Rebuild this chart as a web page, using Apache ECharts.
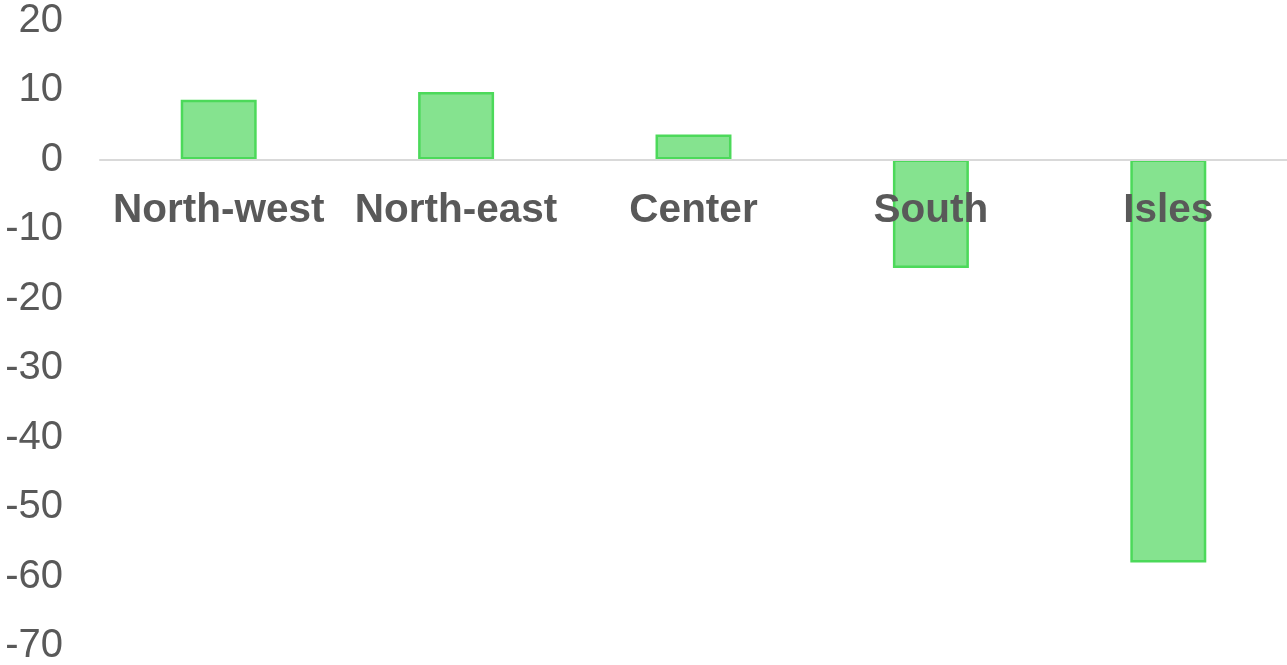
<!DOCTYPE html>
<html>
<head>
<meta charset="utf-8">
<script src="https://cdn.jsdelivr.net/npm/echarts@6/dist/echarts.min.js"></script>
<style>html,body{margin:0;padding:0;background:#fff}#c{width:1287px;height:665px}</style>
</head>
<body>
<div id="c"></div>
<script>
const categories = ['North-west', 'North-east', 'Center', 'South', 'Isles'];
const values = [8.6, 9.7, 3.6, -15.6, -58.0];
const yMin = -70, yMax = 20, yStep = 10;

const gridTop = 20.5, gridBottom = 19, H = 665;
const plotH = H - gridTop - gridBottom;
const zeroY = gridTop + plotH * (yMax - 0) / (yMax - yMin);
const xOffset = -((H - gridBottom) - zeroY);

const chart = echarts.init(document.getElementById('c'), null, {renderer: 'canvas'});
chart.setOption({
  animation: false,
  grid: {left: 100, right: 0, top: gridTop, bottom: gridBottom, containLabel: false, outerBoundsMode: 'none'},
  xAxis: {
    type: 'category',
    data: categories,
    position: 'bottom',
    offset: xOffset,
    z: 10,
    axisLine: {onZero: false, lineStyle: {color: '#d9d9d9', width: 2}},
    axisTick: {show: false},
    axisLabel: {
      color: '#595959', fontSize: 40.5, fontWeight: 'bold',
      fontFamily: 'Liberation Sans, Arial, sans-serif', margin: 31, interval: 0
    }
  },
  yAxis: {
    type: 'value', min: yMin, max: yMax, interval: yStep,
    axisLine: {show: false}, axisTick: {show: false}, splitLine: {show: false},
    axisLabel: {
      color: '#595959', fontSize: 40, padding: [6, 0, 0, 0],
      fontFamily: 'Liberation Sans, Arial, sans-serif', margin: 37
    }
  },
  series: [{
    type: 'bar',
    data: values,
    barWidth: '32%',
    z: 2,
    itemStyle: {color: '#85e38f', borderColor: '#4cd95a', borderWidth: 2.5}
  }]
});
</script>
</body>
</html>
